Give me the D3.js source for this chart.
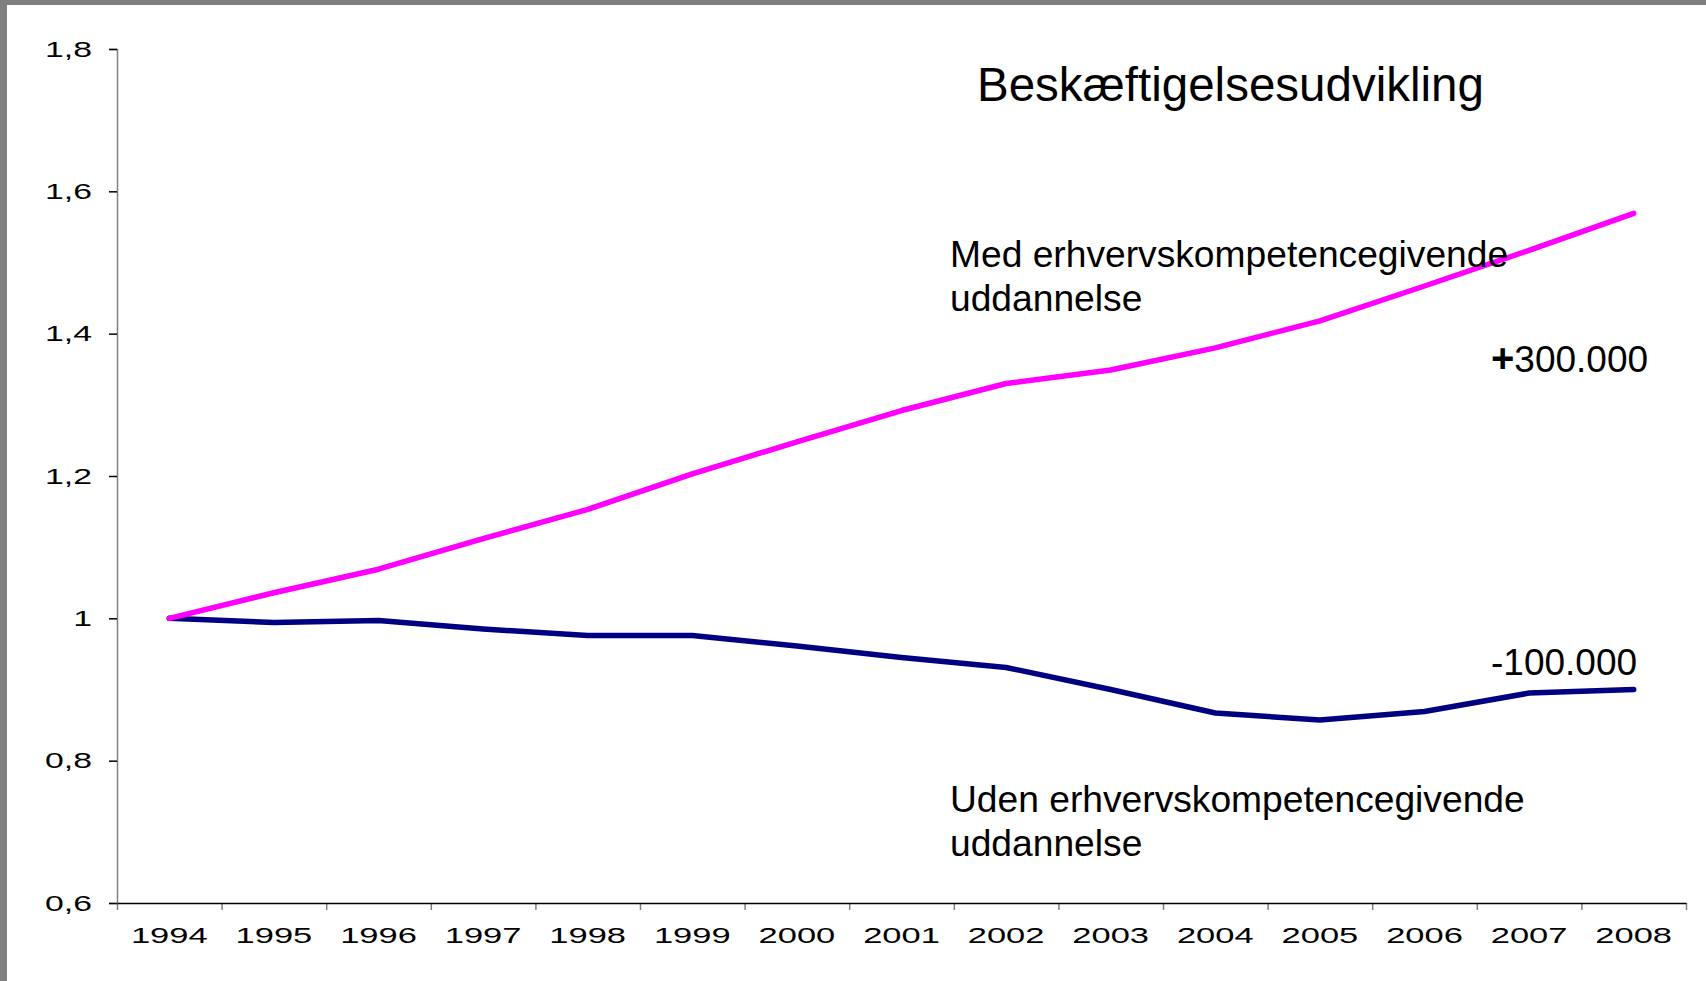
<!DOCTYPE html>
<html>
<head>
<meta charset="utf-8">
<script src="https://cdn.jsdelivr.net/npm/d3@7"></script>
<style>
  body { margin: 0; background: #fff; }
  svg { display: block; font-family: "Liberation Sans", Arial, sans-serif; }
</style>
</head>
<body>
<div id="chart"></div>
<script>
var years = ["1994", "1995", "1996", "1997", "1998", "1999", "2000", "2001",
             "2002", "2003", "2004", "2005", "2006", "2007", "2008"];

// med erhvervskompetencegivende uddannelse (index, 1994 = 1)
var medUdd = [1.000, 1.036, 1.069, 1.112, 1.153, 1.203, 1.248, 1.292,
              1.330, 1.349, 1.380, 1.418, 1.467, 1.517, 1.569];

// uden erhvervskompetencegivende uddannelse
var udenUdd = [1.000, 0.994, 0.997, 0.985, 0.976, 0.976, 0.961, 0.945,
               0.931, 0.900, 0.867, 0.857, 0.869, 0.895, 0.900];

var yTicks = [0.6, 0.8, 1, 1.2, 1.4, 1.6, 1.8];
var yTickLabels = ["0,6", "0,8", "1", "1,2", "1,4", "1,6", "1,8"];

var W = 1706, H = 981;
var margin = { top: 49, right: 20, bottom: 78, left: 117 };
var width = W - margin.left - margin.right;
var height = H - margin.top - margin.bottom;
var stretch = 1.5; // tick labels in the source are drawn wide

var svg = d3.select("#chart").append("svg")
    .attr("width", W)
    .attr("height", H);

// grey frame strips along the top and left edge
svg.append("rect").attr("x", 0).attr("y", 0).attr("width", W).attr("height", 5).attr("fill", "#808080");
svg.append("rect").attr("x", 0).attr("y", 0).attr("width", 7).attr("height", H).attr("fill", "#808080");

var g = svg.append("g")
    .attr("transform", "translate(" + margin.left + "," + margin.top + ")");

var x = d3.scaleBand()
    .domain(years)
    .range([0, width])
    .padding(0);

var xEdge = d3.scaleLinear()
    .domain([0, years.length])
    .range([0, width]);

var y = d3.scaleLinear()
    .domain([0.6, 1.8])
    .range([height, 0]);

// y axis
var yAxis = g.append("g")
    .call(d3.axisLeft(y)
        .tickValues(yTicks)
        .tickFormat(function(d, i) { return yTickLabels[i]; })
        .tickSize(8)
        .tickPadding(0));
yAxis.select(".domain").attr("stroke", "#808080").attr("stroke-width", 1.5);
yAxis.selectAll(".tick line").attr("stroke", "#000").attr("stroke-width", 1.5);
yAxis.selectAll(".tick text")
    .attr("font-size", 22.5)
    .attr("fill", "#000")
    .attr("x", -25 / stretch)
    .attr("transform", "scale(" + stretch + ",1)");

// x axis: boundary ticks
var xTicks = g.append("g")
    .attr("transform", "translate(0," + height + ")")
    .call(d3.axisBottom(xEdge)
        .tickValues(d3.range(0, years.length + 1))
        .tickFormat("")
        .tickSize(7));
xTicks.select(".domain").remove();
xTicks.selectAll(".tick line").attr("stroke", "#808080").attr("stroke-width", 1.5);

// x axis: line and year labels
var xAxis = g.append("g")
    .attr("transform", "translate(0," + height + ")")
    .call(d3.axisBottom(x).tickSize(0).tickPadding(24).tickSizeOuter(0));
xAxis.select(".domain").attr("stroke", "#000").attr("stroke-width", 1.5);
xAxis.selectAll(".tick text")
    .attr("font-size", 23)
    .attr("fill", "#000")
    .attr("transform", "scale(" + stretch + ",1)");

// lines
var line = d3.line()
    .x(function(d, i) { return x(years[i]) + x.bandwidth() / 2; })
    .y(function(d) { return y(d); });

g.append("path")
    .datum(udenUdd)
    .attr("fill", "none")
    .attr("stroke", "#000080")
    .attr("stroke-width", 5.5)
    .attr("stroke-linecap", "round")
    .attr("stroke-linejoin", "round")
    .attr("d", line);

g.append("path")
    .datum(medUdd)
    .attr("fill", "none")
    .attr("stroke", "#FF00FF")
    .attr("stroke-width", 5.5)
    .attr("stroke-linecap", "round")
    .attr("stroke-linejoin", "round")
    .attr("d", line);

// texts
svg.append("text")
    .attr("x", 977).attr("y", 101)
    .attr("font-size", 47.5)
    .text("Beskæftigelsesudvikling");

var med = svg.append("text").attr("x", 950).attr("y", 267).attr("font-size", 37.2);
med.append("tspan").attr("x", 950).text("Med erhvervskompetencegivende");
med.append("tspan").attr("x", 950).attr("dy", 44).text("uddannelse");

var uden = svg.append("text").attr("x", 950).attr("y", 812).attr("font-size", 37.2);
uden.append("tspan").attr("x", 950).text("Uden erhvervskompetencegivende");
uden.append("tspan").attr("x", 950).attr("dy", 44).text("uddannelse");

var plus = svg.append("text").attr("x", 1491).attr("y", 372).attr("font-size", 37);
plus.append("tspan").attr("font-weight", "bold").attr("font-size", 40).text("+");
plus.append("tspan").text("300.000");

svg.append("text")
    .attr("x", 1491).attr("y", 675)
    .attr("font-size", 37)
    .text("-100.000");
</script>
</body>
</html>
